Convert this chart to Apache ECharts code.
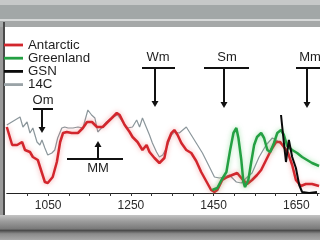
<!DOCTYPE html>
<html><head><meta charset="utf-8">
<script src="https://cdn.jsdelivr.net/npm/echarts@6/dist/echarts.min.js"></script>
<style>html,body{margin:0;padding:0;background:#9a9a9a;}#c{width:320px;height:240px;}</style>
</head><body><div id="c"></div>
<script>
// ---- data (years, relative temperature proxy) ----
var antarcticYears = [950,963,975,987,994,1006,1013,1025,1035,1042,1049,1061,1071,1079,1086,1095,1107,1122,1134,1144,1156,1168,1182,1194,1204,1216,1223,1235,1247,1254,1266,1278,1288,1295,1307,1319,1331,1339,1348,1355,1363,1372,1384,1396,1408,1420,1432,1444,1452,1459,1471,1483,1495,1507,1519,1531,1543,1555,1565,1577,1589,1601,1611,1620,1630,1640,1649,1661,1673,1688,1705];
var antarcticVals  = [66,48,48,51,43,41,36,33,20,11,10,16,31,51,60,61,60,60,65,71,71,66,66,71,75,80,78,68,61,56,51,43,48,41,35,30,35,51,60,63,58,50,43,40,32,21,12,3,1,3,13,16,18,20,14,9,13,18,23,33,43,51,51,46,40,28,13,7,9,9,7];

var c14Years = [950,982,989,999,1006,1013,1023,1030,1035,1042,1049,1059,1066,1073,1083,1090,1098,1110,1122,1134,1146,1155,1163,1170,1179,1191,1206,1218,1230,1242,1254,1264,1271,1278,1288,1295,1302,1312,1319,1327,1336,1348,1355,1367,1384,1396,1408,1423,1440,1452,1464,1476,1488,1505,1517,1529,1543,1560,1577,1592,1601,1616,1628];
var c14Vals  = [68,76,66,71,60,65,51,48,53,45,38,40,43,55,65,66,65,65,66,65,83,78,75,61,65,71,76,78,71,65,66,73,66,75,65,58,50,41,36,38,45,58,61,60,66,58,50,40,26,16,15,16,18,11,10,15,20,36,48,55,53,48,43];

var greenlandYears = [1447,1459,1469,1481,1490,1498,1505,1510,1517,1522,1526,1534,1541,1548,1555,1565,1572,1580,1587,1596,1604,1613,1620,1628,1640,1652,1664,1676,1688,1705];
var greenlandVals  = [3,5,13,21,43,60,65,55,33,11,6,13,31,48,56,60,55,43,41,50,60,63,58,47,43,40,36,33,30,27];

var gsnYears = [1613,1620,1625,1632,1640,1649,1657,1664,1681,1700];
var gsnVals  = [78,50,31,53,36,25,8,1,0,1];

var tickLabels = ['1050','1250','1450','1650'];

var annotations = [
  {text:'Om', dir:'down'},
  {text:'MM', dir:'up'},
  {text:'Wm', dir:'down'},
  {text:'Sm', dir:'down'},
  {text:'Mm', dir:'down'}
];

function pairs(xs, ys){ return xs.map(function(x,i){return [x, ys[i]];}); }

var chart = echarts.init(document.getElementById('c'), null, {renderer:'canvas'});
var FONT = '"Liberation Sans", Arial, sans-serif';

// annotation geometry (decorative overlay)
var annG = [
  {tx:43, ty:100, x0:33, x1:53, by:109, ax:42, tip:133},
  {tx:98, ty:168, x0:67, x1:123, by:159, ax:98, tip:141},
  {tx:158, ty:57, x0:142, x1:175, by:68, ax:155, tip:107},
  {tx:227, ty:57, x0:204, x1:249, by:68, ax:224, tip:108},
  {tx:310, ty:57, x0:296, x1:322, by:68, ax:307, tip:108}
];
var graphics = [
  {type:'rect', shape:{x:0,y:0,width:320,height:5}, style:{fill:'#c6c8c8'}, z:0},
  {type:'rect', shape:{x:0,y:5,width:320,height:14}, style:{fill:'#a2a7a7'}, z:0},
  {type:'rect', shape:{x:0,y:19,width:320,height:2}, style:{fill:'#d6d8d8'}, z:0},
  {type:'rect', shape:{x:0,y:21,width:320,height:6}, style:{fill:'#a5a8a8'}, z:0},
  {type:'rect', shape:{x:5,y:27,width:315,height:188}, style:{fill:'#ffffff'}, z:0},
  {type:'rect', shape:{x:3,y:22,width:2,height:193}, style:{fill:'#4a4a4a'}, z:0},
  {type:'rect', shape:{x:0,y:215,width:320,height:25}, style:{fill:{type:'linear',x:0,y:0,x2:0,y2:1,colorStops:[
     {offset:0,color:'#c4c4c4'},{offset:0.25,color:'#9c9c9c'},{offset:0.55,color:'#7a7a7a'},{offset:0.62,color:'#4c4c4c'},{offset:0.75,color:'#8a8a8a'},{offset:1,color:'#a8a8a8'}]}}, z:0}
];
annG.forEach(function(g,i){
  var a = annotations[i];
  graphics.push({type:'text', x:g.tx, y:g.ty, style:{text:a.text, font:'13px '+FONT, fill:'#1e1e1e', align:'center', verticalAlign:'middle'}, z:10});
  graphics.push({type:'line', shape:{x1:g.x0,y1:g.by,x2:g.x1,y2:g.by}, style:{stroke:'#111', lineWidth:2}, z:10});
  var head = a.dir==='down' ? -6 : 6;
  graphics.push({type:'line', shape:{x1:g.ax,y1:g.by,x2:g.ax,y2:g.tip+head}, style:{stroke:'#111', lineWidth:2}, z:10});
  graphics.push({type:'polygon', shape:{points:[[g.ax-3.5,g.tip+head],[g.ax+3.5,g.tip+head],[g.ax,g.tip]]}, style:{fill:'#111'}, z:10});
});

var option = {
  backgroundColor:'#9a9a9a',
  animation:false,
  graphic: graphics,
  grid:{left:6.8, right:0, top:93, bottom:47, containLabel:false},
  legend:{
    orient:'vertical', left:4, top:38.5, padding:0, itemWidth:19, itemHeight:2.8, itemGap:0.2, icon:'rect',
    selectedMode:false,
    textStyle:{fontFamily:FONT, fontSize:13.3, color:'#1e1e1e', lineHeight:12, padding:0},
    data:['Antarctic','Greenland','GSN','14C']
  },
  xAxis:{
    type:'value', min:950, max:1705, interval:50,
    axisLine:{lineStyle:{color:'#222', width:1.2}},
    axisTick:{length:3, lineStyle:{color:'#333'}},
    splitLine:{show:false},
    axisLabel:{fontFamily:FONT, fontSize:12, color:'#2a2a2a', margin:7, showMinLabel:false, showMaxLabel:false,
      formatter:function(v){ var s=String(v); return tickLabels.indexOf(s)>=0 ? s : ''; }}
  },
  yAxis:{type:'value', min:0, max:100, show:false},
  series:[
    {name:'14C', type:'line', symbol:'none', data:pairs(c14Years,c14Vals), z:3,
      lineStyle:{color:'#8b969b', width:1.2}, itemStyle:{color:'#9aa3a7'}},
    {name:'Antarctic', type:'line', symbol:'none', data:pairs(antarcticYears,antarcticVals), z:4,
      lineStyle:{color:'#d2262d', width:2.5, shadowColor:'rgba(235,90,90,0.55)', shadowBlur:5}, itemStyle:{color:'#d2262d'}},
    {name:'Greenland', type:'line', symbol:'none', data:pairs(greenlandYears,greenlandVals), z:5,
      lineStyle:{color:'#24a043', width:2.5, shadowColor:'rgba(80,200,100,0.55)', shadowBlur:5}, itemStyle:{color:'#24a043'}},
    {name:'GSN', type:'line', symbol:'none', data:pairs(gsnYears,gsnVals), z:6,
      lineStyle:{color:'#0a0a0a', width:2}, itemStyle:{color:'#0a0a0a'}}
  ]
};
chart.setOption(option);
</script></body></html>
